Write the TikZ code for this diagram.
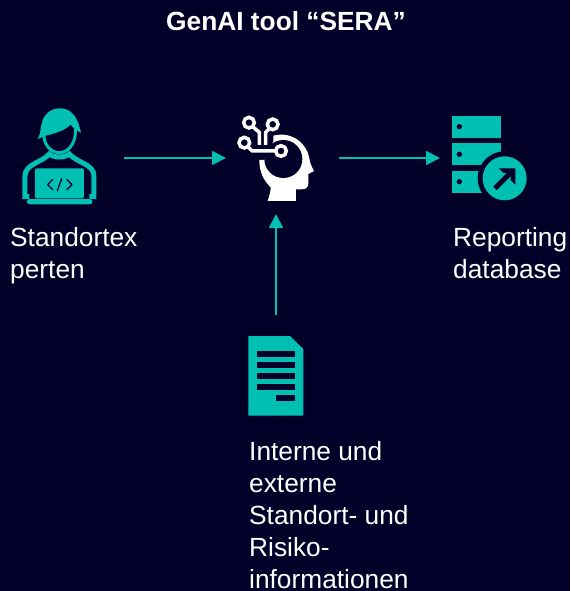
\documentclass[tikz,border=0pt]{standalone}
\usepackage{fontspec}
\setmainfont{Liberation Sans}
\usetikzlibrary{arrows.meta}
\definecolor{bgdark}{HTML}{020028}
\definecolor{tealc}{HTML}{00BFB3}
\tikzset{
  flow/.style={draw=tealc,line width=1.8pt,-{Triangle[length=14pt,width=14pt]}},
  iconbox/.style={inner sep=0pt,outer sep=0pt},
  lbl/.style={text=white,inner sep=0pt,anchor=north west,align=left,font=\fontsize{26.3}{32}\selectfont},
  zoomed/.style={x=0.3333pt,y=-0.3333pt},
}
\begin{document}
\begin{tikzpicture}[x=1pt,y=-1pt]
\useasboundingbox (0,0) rectangle (570,591);
\fill[bgdark] (0,0) rectangle (570,591);
\node[text=white,inner sep=0pt,font=\bfseries\fontsize{26.3}{32}\selectfont] (title) at (286,21) {GenAI tool “SERA”};
% anchors for the connectors
\node[iconbox,minimum width=102pt,minimum height=100pt] (person) at (73,158) {};
\node[iconbox,minimum width=113pt,minimum height=112pt] (brain) at (282.5,158) {};
\node[iconbox,minimum width=90pt,minimum height=90pt] (server) at (485,158) {};
\node[iconbox,minimum width=56pt,minimum height=100pt] (doc) at (276,365) {};
\draw[flow] (person.east) -- (brain.west);
\draw[flow] (brain.east) -- (server.west);
\draw[flow] (doc.north) -- (doc.north |- brain.south);
% person
\begin{scope}[shift={(0,90)},zoomed]
  \draw[tealc,line width=3pt] (132,125) .. controls (128,160) and (150,188) .. (178,188)
     .. controls (208,188) and (230,155) .. (226,115);
  \fill[tealc] (113,147) .. controls (124,130) and (120,110) .. (128,90)
     .. controls (140,62) and (165,53) .. (185,55)
     .. controls (220,58) and (235,90) .. (243,128)
     .. controls (230,122) and (220,115) .. (212,104)
     .. controls (195,122) and (165,130) .. (138,137) -- cycle;
  \draw[tealc,line width=5pt] (88,320) -- (75,320) -- (75,258)
     .. controls (75,222) and (125,218) .. (148,192)
     .. controls (160,204) and (195,204) .. (208,192)
     .. controls (230,218) and (282,222) .. (282,258) -- (282,320) -- (268,320);
  \fill[tealc,rounded corners=2pt] (105,235) rectangle (252,325);
  \fill[tealc,rounded corners=3pt] (80,327) rectangle (278,343);
  \draw[bgdark,line width=1.3pt,line cap=round,line join=round] (158,269) -- (143,284) -- (158,299);
  \draw[bgdark,line width=1.3pt,line cap=round,line join=round] (201,269) -- (216,284) -- (201,299);
  \draw[bgdark,line width=1.3pt,line cap=round] (185,266) -- (172,302);
\end{scope}
% brain
\begin{scope}[shift={(220,100)},zoomed]
  \fill[white] (160,107) .. controls (220,92) and (262,135) .. (268,175)
     .. controls (270,190) and (275,200) .. (282,213) -- (265,222) -- (265,250)
     .. controls (265,262) and (258,268) .. (245,268) -- (228,268) -- (228,303) -- (143,303)
     .. controls (148,288) and (152,275) .. (152,262)
     .. controls (130,240) and (118,215) .. (118,180) -- (133,180) -- (160,125) -- cycle;
  \fill[bgdark] (190,177) circle[radius=57];
  \draw[white,line width=3.5pt] (87,68) circle[radius=16];
  \draw[white,line width=3.5pt] (158,73) circle[radius=16];
  \draw[white,line width=3.5pt] (73,128) circle[radius=16];
  \draw[white,line width=3.5pt] (183,153) circle[radius=16];
  \draw[white,line width=3.5pt] (98,80) -- (118,97) -- (118,135);
  \draw[white,line width=3.5pt] (148,86) -- (137,97) -- (137,135);
  \draw[white,line width=3.5pt] (83,140) -- (97,153) -- (167,153);
\end{scope}
% server
\begin{scope}[shift={(430,100)},zoomed]
  \fill[tealc] (67,47) rectangle (212,113);
  \fill[tealc] (67,130) rectangle (212,195);
  \fill[tealc] (67,212) rectangle (212,278);
  \foreach \yy in {80,163,245} \fill[bgdark] (88,\yy) circle[radius=8];
  \fill[bgdark] (224,235) circle[radius=81];
  \fill[tealc] (224,235) circle[radius=66];
  \draw[bgdark,line width=5pt] (195,265) -- (245,215);
  \fill[bgdark] (207,205) -- (256,205) -- (256,254) -- (242,240) -- (242,219) -- (221,219) -- cycle;
\end{scope}
% document
\begin{scope}[shift={(230,325)},zoomed]
  \fill[tealc] (55,33) -- (180,33) -- (220,72) -- (220,272) -- (55,272) -- cycle;
  \foreach \yy in {78,111,144,177} \fill[bgdark] (80,\yy) rectangle (195,\yy+18);
  \fill[bgdark] (138,210) rectangle (195,228);
\end{scope}
% labels
\node[lbl] (lperson) at (10,227) {Standortex\\perten};
\node[lbl] (lserver) at (453,227) {Reporting\\database};
\node[lbl] (ldoc) at (249,441) {Interne und\\externe\\Standort- und\\Risiko-\\informationen};
\end{tikzpicture}
\end{document}
